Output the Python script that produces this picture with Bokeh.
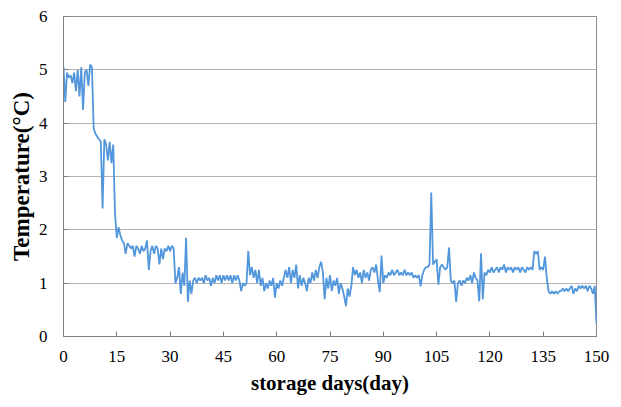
from bokeh.plotting import figure
from bokeh.models import Range1d, FixedTicker
from bokeh.embed import file_html
from bokeh.resources import INLINE

x_ticks = [0, 15, 30, 45, 60, 75, 90, 105, 120, 135, 150]
y_ticks = [0, 1, 2, 3, 4, 5, 6]

# temperature readings every half day, days 0 .. 150
temps_0_8 = [5.05, 4.4, 4.95, 4.85, 4.9, 4.75, 4.95, 4.6, 5.0, 4.5, 5.05, 4.25, 4.95, 5.0, 4.7, 5.1, 5.05]
temps_8_14 = [3.9, 3.8, 3.75, 3.7, 3.65, 2.4, 3.7, 3.6, 3.3, 3.65, 3.25, 3.6]
temps_14_18 = [2.3, 1.85, 2.05, 1.9, 1.8, 1.75, 1.55, 1.75]
temps_18_31 = [1.7, 1.65, 1.7, 1.5, 1.7, 1.65, 1.55, 1.7, 1.6, 1.65, 1.8, 1.25, 1.6,
               1.7, 1.55, 1.7, 1.65, 1.35, 1.65, 1.45, 1.65, 1.6, 1.7, 1.6, 1.7, 1.65]
temps_31_36 = [1.0, 1.1, 1.3, 0.8, 1.2, 0.95, 1.85, 0.65, 1.05, 0.8]
temps_36_51 = [1.05, 1.1, 1.0, 1.1, 1.05, 1.1, 1.0, 1.15, 1.05, 1.1, 0.95, 1.1, 1.0, 1.15, 1.05,
               1.15, 1.0, 1.15, 1.05, 1.15, 1.05, 1.15, 1.0, 1.15, 1.05, 1.15, 1.05, 0.85, 1.0, 0.95]
temps_51_62 = [1.0, 1.6, 1.15, 1.3, 1.1, 1.25, 1.0, 1.25, 0.95, 1.1, 0.85, 1.0, 0.9, 1.05,
               0.95, 1.1, 0.73, 1.0, 0.9, 1.05, 0.95, 1.1]
temps_62_71 = [1.25, 1.1, 1.3, 1.0, 1.25, 1.1, 1.35, 0.9, 1.15, 0.95, 1.1, 1.0, 0.85, 1.1,
               1.0, 1.2, 1.05, 1.25]
temps_71_81 = [1.1, 1.3, 1.4, 1.2, 0.7, 1.1, 0.9, 1.15, 0.85, 1.05, 0.95, 1.1, 0.8, 1.0,
               0.9, 0.75, 0.57, 0.9, 0.75, 0.95]
temps_81_90 = [1.3, 1.15, 1.25, 1.1, 1.2, 1.0, 1.25, 1.1, 1.2, 1.05, 1.25, 1.3, 1.2, 1.35,
               1.05, 0.83, 1.52, 1.0]
temps_90_103 = [1.15, 1.1, 1.2, 1.15, 1.25, 1.15, 1.2, 1.25, 1.15, 1.2, 1.15, 1.25, 1.15,
                1.2, 1.15, 1.2, 1.1, 1.15, 1.1, 1.15, 0.94, 1.15, 1.25, 1.3, 1.3, 1.35]
temps_103_110 = [2.7, 1.35, 1.4, 1.45, 0.97, 1.3, 1.35, 1.3, 1.25, 1.3, 1.67, 1.05, 1.0, 1.05]
temps_110_118 = [0.65, 1.0, 1.05, 0.95, 1.05, 1.0, 1.1, 1.05, 1.15, 1.0, 1.2, 1.1, 1.05,
                 0.66, 1.56, 0.7]
temps_118_136 = [1.2, 1.15, 1.25, 1.2, 1.3, 1.2, 1.25, 1.3, 1.2, 1.3, 1.25, 1.35, 1.2, 1.3,
                 1.25, 1.3, 1.2, 1.3, 1.25, 1.3, 1.2, 1.3, 1.25, 1.2, 1.3, 1.25, 1.3, 1.25,
                 1.6, 1.55, 1.6, 1.25, 1.3, 1.25, 1.5, 1.1]
temps_136_150 = [0.85, 0.8, 0.85, 0.8, 0.85, 0.8, 0.85, 0.85, 0.9, 0.85, 0.9, 0.85, 0.9,
                 0.95, 0.8, 0.9, 0.85, 0.95, 0.9, 0.95, 0.9, 0.95, 0.85, 0.95, 0.9, 0.8,
                 0.95, 0.23]

temps = (temps_0_8 + temps_8_14 + temps_14_18 + temps_18_31 + temps_31_36 + temps_36_51
         + temps_51_62 + temps_62_71 + temps_71_81 + temps_81_90 + temps_90_103
         + temps_103_110 + temps_110_118 + temps_118_136 + temps_136_150)
days = [i * 0.5 for i in range(len(temps))]

FONT = "Liberation Serif"

p = figure(width=621, height=407, output_backend="svg", toolbar_location=None,
           x_range=Range1d(0, 150), y_range=Range1d(0, 6),
           min_border_left=63, min_border_right=25, min_border_top=16, min_border_bottom=71)

p.line(days, temps, line_color="#5296DC", line_width=1.8)

p.outline_line_color = "#8C8C8C"
p.outline_line_width = 1
p.xgrid.grid_line_color = None
p.ygrid.grid_line_color = "#B4B4B4"
p.ygrid.grid_line_width = 1

p.xaxis.ticker = FixedTicker(ticks=x_ticks)
p.yaxis.ticker = FixedTicker(ticks=y_ticks)

for ax in (p.xaxis[0], p.yaxis[0]):
    ax.axis_line_color = "#7F7F7F"
    ax.major_tick_line_color = "#7F7F7F"
    ax.major_tick_in = 5
    ax.major_tick_out = 0
    ax.minor_tick_line_color = None
    ax.major_label_text_font = FONT
    ax.major_label_text_font_size = "17px"
    ax.major_label_text_font_style = "normal"
    ax.major_label_text_color = "black"
    ax.axis_label_text_font = FONT
    ax.axis_label_text_font_style = "bold"
    ax.axis_label_text_color = "black"

p.xaxis.axis_label_text_font_size = "21px"
p.yaxis.axis_label_text_font_size = "23px"
p.xaxis.axis_label = "storage days(day)"
p.yaxis.axis_label = "Temperature(°C)"
p.xaxis.major_label_standoff = 14
p.yaxis.major_label_standoff = 16
p.xaxis.axis_label_standoff = 6
p.yaxis.axis_label_standoff = 2

open("out.html", "w").write(file_html(p, INLINE))
